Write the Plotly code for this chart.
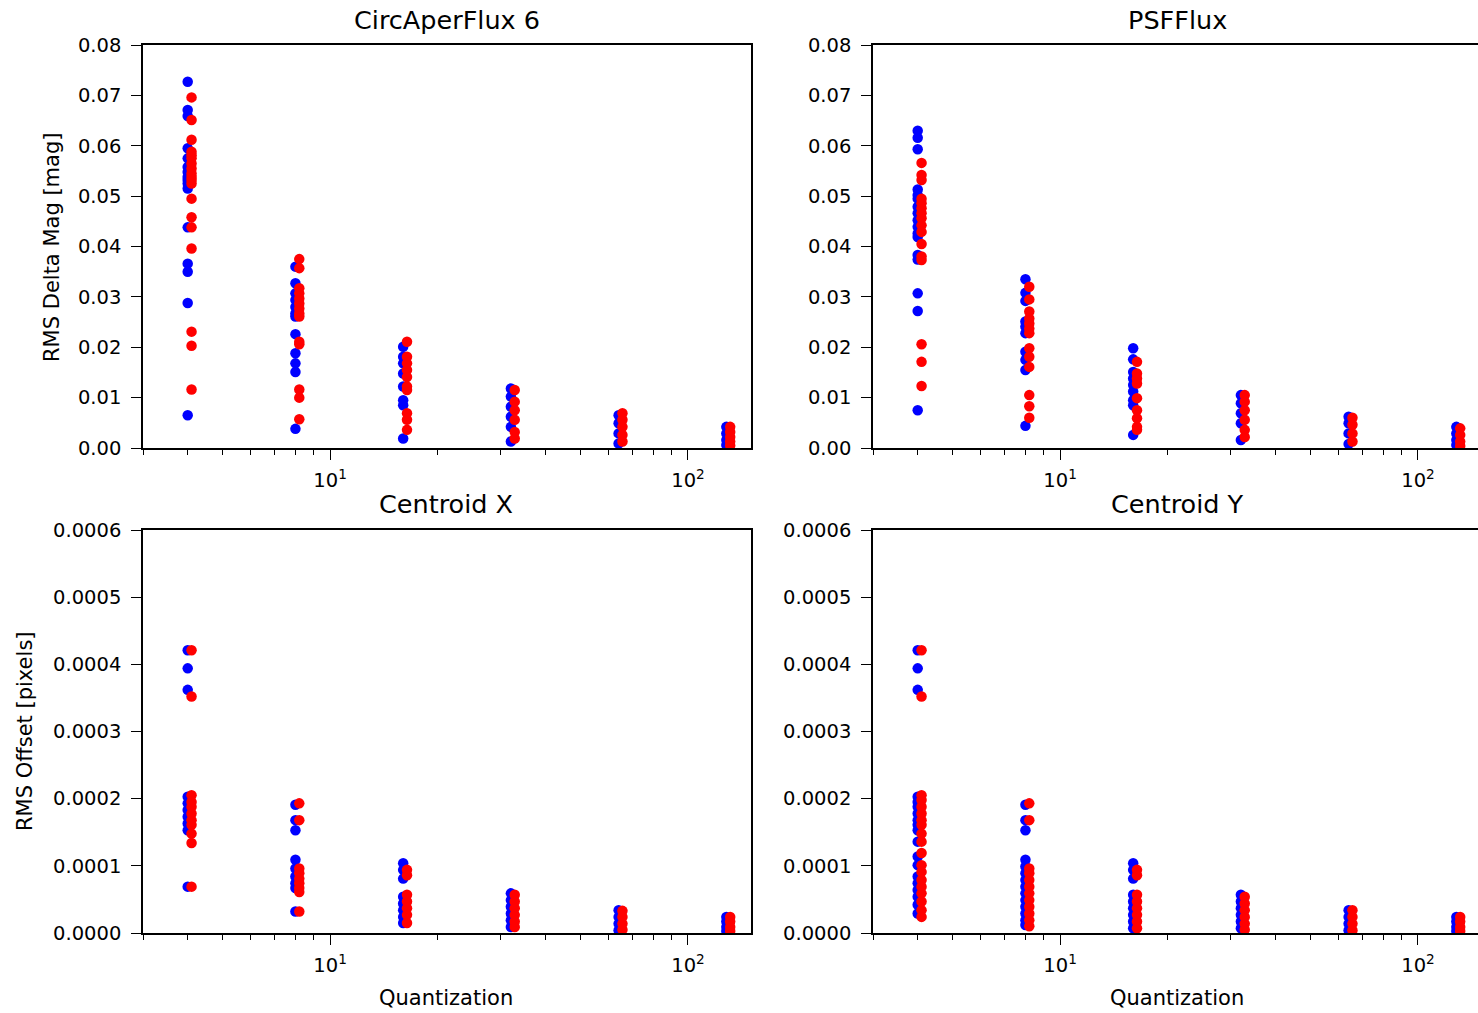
import math
import plotly.graph_objects as go

# Quantization levels (x values) shared by every panel
quantization = [4, 8, 16, 32, 64, 128]

# RMS delta magnitude [mag], CircAperFlux 6; one list per quantization level
circ_blue = [
    [0.0727, 0.0671, 0.0659, 0.0595, 0.0575, 0.0558, 0.0548, 0.0538, 0.0532, 0.0525, 0.0515, 0.0438, 0.0366, 0.0350, 0.0288, 0.0065],
    [0.0360, 0.0327, 0.0307, 0.0294, 0.0280, 0.0267, 0.0261, 0.0226, 0.0188, 0.0168, 0.0151, 0.0038],
    [0.0201, 0.0181, 0.0168, 0.0148, 0.0122, 0.0095, 0.0085, 0.0019],
    [0.0118, 0.0102, 0.0082, 0.0062, 0.0042, 0.0013],
    [0.0065, 0.0049, 0.0029, 0.0009],
    [0.0042, 0.0029, 0.0016, 0.0006],
]
circ_red = [
    [0.0696, 0.0651, 0.0612, 0.0588, 0.0581, 0.0575, 0.0565, 0.0555, 0.0545, 0.0538, 0.0532, 0.0525, 0.0495, 0.0458, 0.0438, 0.0396, 0.0231, 0.0203, 0.0116],
    [0.0375, 0.0357, 0.0317, 0.0307, 0.0297, 0.0287, 0.0277, 0.0267, 0.0261, 0.0211, 0.0206, 0.0116, 0.0100, 0.0057],
    [0.0211, 0.0181, 0.0168, 0.0155, 0.0141, 0.0122, 0.0115, 0.0069, 0.0056, 0.0036],
    [0.0115, 0.0092, 0.0075, 0.0056, 0.0032, 0.0019],
    [0.0069, 0.0056, 0.0042, 0.0026, 0.0013],
    [0.0042, 0.0032, 0.0022, 0.0013, 0.0005],
]

# RMS delta magnitude [mag], PSFFlux
psf_blue = [
    [0.0630, 0.0616, 0.0593, 0.0513, 0.0502, 0.0495, 0.0479, 0.0466, 0.0452, 0.0439, 0.0426, 0.0419, 0.0383, 0.0374, 0.0307, 0.0272, 0.0075],
    [0.0335, 0.0308, 0.0292, 0.0251, 0.0241, 0.0228, 0.0191, 0.0175, 0.0155, 0.0044],
    [0.0198, 0.0176, 0.0151, 0.0138, 0.0125, 0.0112, 0.0095, 0.0085, 0.0026],
    [0.0105, 0.0089, 0.0069, 0.0049, 0.0016],
    [0.0062, 0.0049, 0.0029, 0.0008],
    [0.0042, 0.0029, 0.0016, 0.0006],
]
psf_red = [
    [0.0566, 0.0542, 0.0532, 0.0495, 0.0486, 0.0476, 0.0466, 0.0456, 0.0442, 0.0429, 0.0405, 0.0380, 0.0373, 0.0206, 0.0171, 0.0123],
    [0.0320, 0.0295, 0.0271, 0.0257, 0.0247, 0.0237, 0.0228, 0.0198, 0.0181, 0.0161, 0.0105, 0.0083, 0.0060],
    [0.0171, 0.0148, 0.0138, 0.0128, 0.0099, 0.0075, 0.0059, 0.0042, 0.0036],
    [0.0105, 0.0092, 0.0075, 0.0056, 0.0036, 0.0022],
    [0.0060, 0.0046, 0.0029, 0.0013],
    [0.0039, 0.0026, 0.0013, 0.0004],
]

# RMS centroid offset [pixels], Centroid X
cenx_blue = [
    [0.000421, 0.000394, 0.000362, 0.000203, 0.000193, 0.000183, 0.000173, 0.000163, 0.000153, 0.000069],
    [0.000191, 0.000168, 0.000153, 0.000109, 0.000096, 0.000084, 0.000074, 0.000067, 0.000032],
    [0.000104, 0.000094, 0.000081, 0.000054, 0.000044, 0.000034, 0.000024, 0.000015],
    [0.000059, 0.000049, 0.000039, 0.000029, 0.000019, 0.000009],
    [0.000034, 0.000024, 0.000014, 0.000004],
    [0.000024, 0.000017, 0.000009, 0.000003],
]
cenx_red = [
    [0.000421, 0.000352, 0.000205, 0.000195, 0.000188, 0.000178, 0.000168, 0.000161, 0.000148, 0.000134, 0.000069],
    [0.000193, 0.000168, 0.000096, 0.000089, 0.000081, 0.000074, 0.000067, 0.000061, 0.000032],
    [0.000094, 0.000086, 0.000057, 0.000047, 0.000037, 0.000027, 0.000015],
    [0.000057, 0.000047, 0.000037, 0.000027, 0.000017, 0.000009],
    [0.000033, 0.000024, 0.000014, 0.000005],
    [0.000024, 0.000017, 0.000009, 0.000003],
]

# RMS centroid offset [pixels], Centroid Y
ceny_blue = [
    [0.000421, 0.000394, 0.000362, 0.000203, 0.000195, 0.000188, 0.000178, 0.000168, 0.000161, 0.000153, 0.000136, 0.000114, 0.000101, 0.000084, 0.000074, 0.000064, 0.000054, 0.000042, 0.000029],
    [0.000191, 0.000168, 0.000153, 0.000109, 0.000099, 0.000089, 0.000079, 0.000069, 0.000059, 0.000049, 0.000039, 0.000029, 0.000019, 0.000012],
    [0.000104, 0.000094, 0.000081, 0.000057, 0.000047, 0.000037, 0.000027, 0.000017, 0.000007],
    [0.000057, 0.000047, 0.000037, 0.000027, 0.000017, 0.000007],
    [0.000034, 0.000024, 0.000014, 0.000004],
    [0.000024, 0.000017, 0.000009, 0.000003],
]
ceny_red = [
    [0.000421, 0.000352, 0.000205, 0.000198, 0.000188, 0.000178, 0.000168, 0.000161, 0.000148, 0.000136, 0.000119, 0.000101, 0.000091, 0.000079, 0.000069, 0.000059, 0.000047, 0.000034, 0.000024],
    [0.000193, 0.000168, 0.000096, 0.000089, 0.000079, 0.000069, 0.000059, 0.000049, 0.000039, 0.000029, 0.000019, 0.000010],
    [0.000094, 0.000086, 0.000057, 0.000047, 0.000037, 0.000027, 0.000017, 0.000007],
    [0.000054, 0.000044, 0.000034, 0.000024, 0.000014, 0.000005],
    [0.000034, 0.000024, 0.000014, 0.000004],
    [0.000024, 0.000017, 0.000009, 0.000003],
]

panel_titles = ["CircAperFlux 6", "PSFFlux", "Centroid X", "Centroid Y"]
x_major_vals = [10, 100]
x_major_text = ["10<sup>1</sup>", "10<sup>2</sup>"]
x_minor_vals = [3, 4, 5, 6, 7, 8, 9, 20, 30, 40, 50, 60, 70, 80, 90]
mag_ticks = [0.00, 0.01, 0.02, 0.03, 0.04, 0.05, 0.06, 0.07, 0.08]
pix_ticks = [0.0, 0.0001, 0.0002, 0.0003, 0.0004, 0.0005, 0.0006]

W, H = 1478, 1013
FONT = "DejaVu Sans"
RED_SHIFT = 1.025  # small multiplicative x offset so the two series sit side by side


def fx(p):
    return p / W


def fy(p):
    return 1 - p / H


fig = go.Figure()

panels = [
    (circ_blue, circ_red, "x", "y"),
    (psf_blue, psf_red, "x2", "y2"),
    (cenx_blue, cenx_red, "x3", "y3"),
    (ceny_blue, ceny_red, "x4", "y4"),
]

for blue, red, xa, ya in panels:
    for series, color, shift in ((blue, "#0000ff", 1.0), (red, "#ff0000", RED_SHIFT)):
        xs, ys = [], []
        for q, vals in zip(quantization, series):
            xs += [q * shift] * len(vals)
            ys += vals
        fig.add_trace(go.Scatter(
            x=xs, y=ys, mode="markers", xaxis=xa, yaxis=ya,
            marker=dict(color=color, size=10.5, line=dict(width=0)),
            showlegend=False, hoverinfo="skip",
        ))

left_dom = [fx(143), fx(751)]
right_dom = [fx(873), 1.0]
top_dom = [fy(448), fy(45)]
bot_dom = [fy(933), fy(530)]
x_full = [math.log10(3), math.log10(150)]
decade_px = (751 - 143) / (x_full[1] - x_full[0])
x_right = [x_full[0], x_full[0] + (W - 873) / decade_px]

tickfont = dict(family=FONT, size=19.5, color="black")


def xaxis(domain, rng, anchor):
    return dict(
        type="log", domain=domain, range=rng, anchor=anchor, automargin=False,
        showline=True, linecolor="black", linewidth=1.5, mirror=True,
        ticks="outside", ticklen=10, tickwidth=1.3, tickcolor="black",
        ticklabelstandoff=4,
        tickmode="array", tickvals=x_major_vals, ticktext=x_major_text,
        minor=dict(ticks="outside", ticklen=5, tickwidth=1, tickcolor="black",
                   tickmode="array", tickvals=x_minor_vals, showgrid=False),
        showgrid=False, zeroline=False, tickfont=tickfont,
    )


def yaxis(domain, ticks, fmt, anchor, mirror):
    return dict(
        domain=domain, range=[ticks[0], ticks[-1]], anchor=anchor, automargin=False,
        showline=True, linecolor="black", linewidth=1.5, mirror=mirror,
        ticks="outside", ticklen=10, tickwidth=1.3, tickcolor="black",
        ticklabelstandoff=6,
        tickmode="array", tickvals=ticks, tickformat=fmt,
        showgrid=False, zeroline=False, tickfont=tickfont,
    )


fig.update_layout(
    width=W, height=H,
    margin=dict(l=0, r=0, t=0, b=0, autoexpand=False),
    paper_bgcolor="white", plot_bgcolor="white",
    font=dict(family=FONT, color="black"),
    xaxis=xaxis(left_dom, x_full, "y"),
    xaxis2=xaxis(right_dom, x_right, "y2"),
    xaxis3=xaxis(left_dom, x_full, "y3"),
    xaxis4=xaxis(right_dom, x_right, "y4"),
    yaxis=yaxis(top_dom, mag_ticks, ".2f", "x", True),
    yaxis2=yaxis(top_dom, mag_ticks, ".2f", "x2", False),
    yaxis3=yaxis(bot_dom, pix_ticks, ".4f", "x3", True),
    yaxis4=yaxis(bot_dom, pix_ticks, ".4f", "x4", False),
)

annotations = []
title_pos = [(447, 20), (1177, 20), (446, 504), (1177, 504)]
for text, (px, py) in zip(panel_titles, title_pos):
    annotations.append(dict(
        text=text, x=fx(px), y=fy(py), xref="paper", yref="paper",
        xanchor="center", yanchor="middle", showarrow=False,
        font=dict(family=FONT, size=25.5, color="black"),
    ))

label_font = dict(family=FONT, size=21, color="black")
annotations += [
    dict(text="RMS Delta Mag [mag]", x=fx(52), y=fy(248), textangle=-90),
    dict(text="RMS Offset [pixels]", x=fx(25), y=fy(731), textangle=-90),
    dict(text="Quantization", x=fx(446), y=fy(998)),
    dict(text="Quantization", x=fx(1177), y=fy(998)),
]
for a in annotations[4:]:
    a.update(xref="paper", yref="paper", xanchor="center", yanchor="middle",
             showarrow=False, font=label_font)

fig.update_layout(annotations=annotations)

fig.write_html("out.html")
